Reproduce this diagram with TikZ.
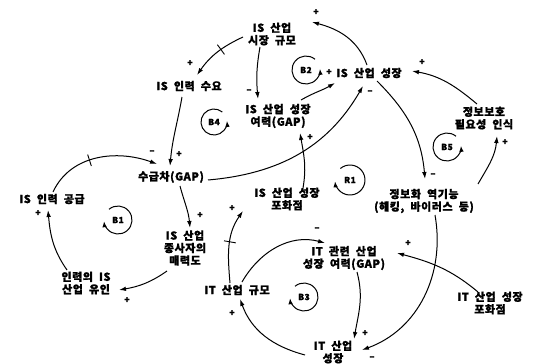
\documentclass[tikz,border=0pt]{standalone}
\usepackage{fontspec}
\setmainfont{Noto Sans CJK KR}[LetterSpace=5,WordSpace=2,BoldFeatures={FakeBold=1.2}]
\usetikzlibrary{arrows.meta,calc,decorations.markings}
\begin{document}
\begin{tikzpicture}[x=1pt,y=1pt]
\tikzset{
  var/.style={font=\fontsize{11}{12.5}\selectfont\bfseries, align=center, inner sep=1pt},
  link/.style={line width=1pt, -{Latex[length=7pt,width=4.5pt]}},
  pol/.style={font=\fontsize{9}{9}\selectfont\bfseries, inner sep=0pt},
  looplbl/.style={font=\fontsize{8.5}{8.5}\selectfont\bfseries, inner sep=0pt},
  loopline/.style={line width=1pt, -{Latex[length=6pt,width=4.5pt]}},
  delaymark/.style={postaction={decorate}, decoration={markings, mark=at position #1 with {\draw[line width=0.9pt,-] (0,-6pt) -- (0,6pt);}}},
}
\useasboundingbox (0,0) rectangle (536,-364);
% variables
\node[var] (mkt) at (272,-34) {IS 산업\\시장 규모};
\node[var] (dem) at (189,-86) {IS 인력 수요};
\node[var] (grow) at (369,-73) {IS 산업 성장};
\node[var] (gapIS) at (278,-116) {IS 산업 성장\\여력(GAP)};
\node[var] (gap) at (171,-177) {수급차(GAP)};
\node[var] (sup) at (52,-199) {IS 인력 공급};
\node[var] (attr) at (185,-248) {IS 산업\\종사자의\\매력도};
\node[var] (lure) at (86,-283) {인력의 IS\\산업 유인};
\node[var] (satIS) at (287,-199) {IS 산업 성장\\포화점};
\node[var] (prot) at (484,-118) {정보보호\\필요성 인식};
\node[var] (dys) at (424,-201) {정보화 역기능\\(해킹, 바이러스 등)};
\node[var] (ITgap) at (344,-258) {IT 관련 산업\\성장 여력(GAP)};
\node[var] (ITsize) at (237,-290) {IT 산업 규모};
\node[var] (ITgrow) at (333,-352) {IT 산업\\성장};
\node[var] (ITsat) at (490,-303) {IT 산업 성장\\포화점};
% links
\draw[link,delaymark=0.42] ($(mkt)+(-29,-3)$) to[out=205,in=55] ($(dem)+(8,11)$);
\draw[link] ($(dem)+(-7,-11)$) to[out=-100,in=85] ($(gap)+(-1,11)$);
\draw[link] ($(mkt)+(-12,-13)$) to[out=-100,in=95] ($(gapIS)+(-20,17)$);
\draw[link] ($(gapIS)+(23,16)$) to[out=30,in=-150] ($(grow)+(-34,-10)$);
\draw[link] ($(grow)+(-2,8)$) to[out=110,in=-15] ($(mkt)+(40,12)$);
\draw[link] ($(gap)+(37,-3)$) to[out=5,in=-120] ($(grow)+(-6,-13)$);
\draw[link] ($(satIS)+(16,11)$) to[out=80,in=-80] ($(gapIS)+(22,-17)$);
\draw[link] ($(grow)+(8,-8)$) to[out=-45,in=95] ($(dys)+(1,22)$);
\draw[link] ($(prot)+(-7,14)$) to[out=140,in=-10] ($(grow)+(43,2)$);
\draw[link] ($(dys)+(54,17)$) to[out=60,in=-95] ($(prot)+(13,-18)$);
\draw[link,delaymark=0.42] ($(sup)+(1,7)$) to[out=65,in=160] ($(gap)+(-14,13)$);
\draw[link] ($(lure)+(-19,13)$) to[out=125,in=-85] ($(sup)+(-4,-11)$);
\draw[link] ($(attr)+(-18,-23)$) to[out=215,in=10] ($(lure)+(33,-7)$);
\draw[link] ($(gap)+(9,-9)$) to[out=-75,in=95] ($(attr)+(5,20)$);
\draw[link,delaymark=0.55] ($(ITsize)+(-7,7)$) to[out=95,in=-125] ($(satIS)+(-44,-12)$);
\draw[link] ($(ITsize)+(5,8)$) to[out=60,in=165] ($(ITgap)+(-19,15)$);
\draw[link] ($(ITgap)+(13,-14)$) to[out=-75,in=80] ($(ITgrow)+(21,13)$);
\draw[link] ($(ITgrow)+(-28,-3)$) to[out=165,in=-70] ($(ITsize)+(3,-9)$);
\draw[link] ($(dys)+(11,-14)$) to[out=-80,in=20] ($(ITgrow)+(29,2)$);
\draw[link] ($(ITsat)+(-12,11)$) to[out=140,in=-15] ($(ITgap)+(53,5)$);
% polarity signs
\node[pol] (p1) at (190,-63) {+};
\node[pol] (p2) at (179,-154) {+};
\node[pol] (p3) at (152,-152) {–};
\node[pol] (p4) at (249,-91) {–};
\node[pol] (p5) at (329,-72) {+};
\node[pol] (p6) at (316,-12) {+};
\node[pol] (p7) at (370,-92) {–};
\node[pol] (p8) at (433,-175) {–};
\node[pol] (p9) at (422,-62) {+};
\node[pol] (p10) at (505,-142) {+};
\node[pol] (p11) at (310,-137) {+};
\node[pol] (p12) at (200,-215) {+};
\node[pol] (p13) at (38,-213) {+};
\node[pol] (p14) at (127,-300) {+};
\node[pol] (p15) at (232,-208) {+};
\node[pol] (p16) at (317,-229) {–};
\node[pol] (p17) at (365,-333) {+};
\node[pol] (p18) at (232,-313) {+};
\node[pol] (p19) at (372,-358) {–};
\node[pol] (p20) at (408,-243) {+};
% loop markers
\node[looplbl] (B2) at (306,-70) {B2};
\draw[loopline] ($(B2)+(50:14)$) arc[start angle=50,end angle=365,radius=14];
\node[looplbl] (B4) at (214,-122) {B4};
\draw[loopline] ($(B4)+(50:13)$) arc[start angle=50,end angle=365,radius=13];
\node[looplbl] (B5) at (447,-147) {B5};
\draw[loopline] ($(B5)+(50:14)$) arc[start angle=50,end angle=365,radius=14];
\node[looplbl] (B1) at (118,-220) {B1};
\draw[loopline] ($(B1)+(130:14)$) arc[start angle=130,end angle=-175,radius=14];
\node[looplbl] (R1) at (350,-180) {R1};
\draw[loopline] ($(R1)+(130:15)$) arc[start angle=130,end angle=-175,radius=15];
\node[looplbl] (B3) at (304,-297) {B3};
\draw[loopline] ($(B3)+(130:14)$) arc[start angle=130,end angle=-175,radius=14];
\end{tikzpicture}
\end{document}
